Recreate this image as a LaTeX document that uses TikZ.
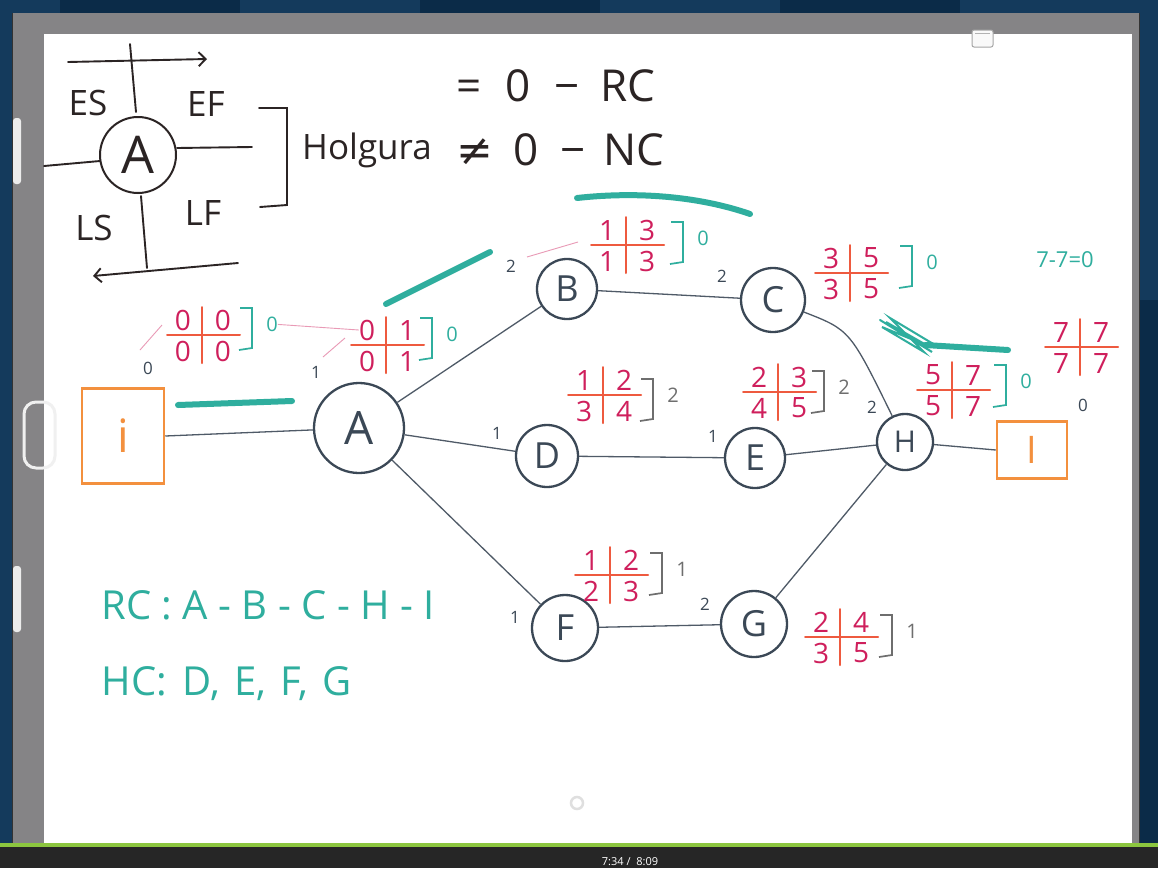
\documentclass[tikz,border=0pt]{standalone}
\usepackage{fontspec}
\setmainfont{Open Sans}
\newfontfamily\symfont{DejaVu Sans}
\usetikzlibrary{arrows.meta}
\definecolor{bgblue}{HTML}{143A5C}
\definecolor{bgdark}{HTML}{0B2B48}
\definecolor{framegray}{HTML}{858486}
\definecolor{ink}{HTML}{3B4856}
\definecolor{legink}{HTML}{2B2424}
\definecolor{crossred}{HTML}{EE5A3F}
\definecolor{crim}{HTML}{CF1F5C}
\definecolor{tealc}{HTML}{2FAE9E}
\definecolor{orangec}{HTML}{F3903E}
\definecolor{brgray}{HTML}{6E6E6E}
\definecolor{barGreen}{HTML}{8CC63F}
\newcommand\hfs[1]{\fontsize{#1}{#1}\selectfont}
\newcommand\brk[5]{%
  \draw[line width=1.7pt,#1] (#2,#3-22) -- (#2+12,#3-22) -- (#2+12,#3+18) -- (#2-1,#3+20);
  \node[slk,text=#1] (#5) at (#2+32,#3-6) {#4};}
\begin{document}
\begin{tikzpicture}[x=1pt,y=-1pt,
  nd/.style={circle,draw=ink,line width=2.3pt,inner sep=0pt,text=ink},
  edge/.style={draw=ink!90,line width=1.3pt},
  hl/.style={draw=tealc,line width=6pt,line cap=round},
  lg/.style={draw=legink,line width=1.9pt,line cap=round},
  lgt/.style={text=legink,font=\hfs{35},inner sep=0pt},
  wt/.style={text=ink,font=\hfs{17},inner sep=0pt},
  num/.style={text=crim,font=\hfs{28},inner sep=0pt},
  crossline/.style={draw=crossred,line width=2pt,line cap=round},
  slk/.style={font=\hfs{20},inner sep=0pt},
  pk/.style={draw=crim!45,line width=0.9pt},
  pics/ctab/.style n args={4}{code={
    \draw[crossline] (-35,0) -- (38,0);
    \draw[crossline] (0,-28) -- (0,28);
    \node[num] (-tl) at (-19,-15) {#1};
    \node[num] (-tr) at (21,-15) {#2};
    \node[num] (-bl) at (-19,16) {#3};
    \node[num] (-br) at (21,16) {#4};
  }}
]
\useasboundingbox (0,0) rectangle (1158,868);
% ---------- screen frame ----------
\fill[bgblue] (0,0) rectangle (1158,868);
\fill[bgdark] (60,0) -- (240,0) -- (240,13) -- (60,13) -- cycle;
\fill[bgdark] (420,0) -- (600,0) -- (600,13) -- (420,13) -- cycle;
\fill[bgdark] (780,0) -- (960,0) -- (960,13) -- (780,13) -- cycle;
\fill[bgdark] (1140,300) rectangle (1158,868);
\fill[black!80] (12,13) rectangle (1140,858);
\fill[framegray] (13,13) rectangle (1139,851);
\fill[white] (44,34) rectangle (1132,843);
\fill[black!85] (0,847) rectangle (1158,868);
\fill[barGreen] (0,843) rectangle (1158,847);
\node[text=white,font=\hfs{11}] (time) at (630,862) {7:34 /\ \ 8:09};
\fill[white!85!gray,rounded corners=3pt] (13,118) rectangle (21,184);
\fill[white!85!gray,rounded corners=3pt] (13,566) rectangle (21,632);
\draw[white!88!gray,line width=3pt,rounded corners=12pt] (24,402) rectangle (55,468);
\draw[gray!70,fill=white!95!gray,line width=1pt,rounded corners=2pt] (972,30) rectangle (993,47);
\draw[gray!60,line width=0.8pt] (975,33) -- (990,33);
\draw[gray!25,line width=2.5pt] (577,803) circle (6);
% ---------- legend ----------
\node[nd,draw=legink,text=legink,minimum size=76pt,font=\hfs{52},line width=2pt] (legA) at (138,155) {A};
\draw[lg,-{Straight Barb[length=7pt,width=14pt]}] (68,62) -- (207,59);
\draw[lg] (130,44) -- (136,112);
\draw[lg] (44,166) -- (100,161);
\draw[lg] (177,148) -- (252,147);
\draw[lg] (141,196) -- (147,268);
\draw[lg,-{Straight Barb[length=7pt,width=14pt]}] (238,263) -- (93,276);
\node[lgt] (ES) at (88,103) {ES};
\node[lgt] (EF) at (206,104) {EF};
\node[lgt] (LS) at (94,228) {LS};
\node[lgt] (LF) at (203,213) {LF};
\draw[lg] (259,108) -- (287,108) -- (287,205) -- (260,207);
\node[text=legink,font=\hfs{35}] (holg) at (367,150) {Holgura};
\node[text=legink,font=\hfs{44},anchor=west] (rc0) at (453,86) {=\hspace{24pt}0\hspace{24pt}−\hspace{20pt}RC};
\node[text=legink,font=\hfs{44},anchor=west] (nc0) at (453,150) {{\symfont ≠}\hspace{20pt}0\hspace{22pt}−\hspace{18pt}NC};
% ---------- teal highlights ----------
\draw[hl] (178,405) -- (292,401);
\draw[hl] (386,304) -- (490,252);
\draw[hl] (577,198) .. controls (650,190) and (710,200) .. (750,214);
\draw[tealc,line width=2pt,line cap=round] (880,320) -- (932,352) -- (886,322) -- (928,346) -- (882,327) -- (924,352) -- (890,318) -- (935,345);
\draw[hl] (925,345) -- (1008,350);
% ---------- nodes ----------
\node[draw=orangec,line width=2.5pt,minimum width=82pt,minimum height=95pt,text=orangec,font=\hfs{46}] (ibox) at (123,436) {i};
\node[nd,minimum size=90pt,font=\hfs{46}] (A) at (359,428) {A};
\node[nd,minimum size=60pt,font=\hfs{36}] (B) at (567,289) {B};
\node[nd,minimum size=64pt,font=\hfs{36}] (C) at (773,300) {C};
\node[nd,minimum size=62pt,font=\hfs{36}] (D) at (547,456) {D};
\node[nd,minimum size=60pt,font=\hfs{36}] (E) at (755,458) {E};
\node[nd,minimum size=56pt,font=\hfs{30}] (H) at (905,442) {H};
\node[nd,minimum size=66pt,font=\hfs{36}] (F) at (565,628) {F};
\node[nd,minimum size=66pt,font=\hfs{36}] (G) at (754,624) {G};
\node[draw=orangec,line width=2.5pt,minimum width=70pt,minimum height=57pt,text=orangec,font=\hfs{38}] (Ibox) at (1032,450) {I};
% ---------- edges ----------
\draw[edge] (ibox.east) -- (A);
\draw[edge] (A) -- (B);
\draw[edge] (A) -- (D);
\draw[edge] (A) -- (F);
\draw[edge] (B) -- (C);
\draw[edge] (D) -- (E);
\draw[edge] (F) -- (G);
\draw[edge] (C) .. controls (850,330) .. (H);
\draw[edge] (E) -- (H);
\draw[edge] (G) -- (H);
\draw[edge] (H) -- (Ibox.west);
% ---------- edge weights ----------
\node[wt] (w0) at (148,368) {0};
\node[wt] (wA) at (316,372) {1};
\node[wt] (wB) at (511,266) {2};
\node[wt] (wC) at (722,276) {2};
\node[wt] (wD) at (497,433) {1};
\node[wt] (wE) at (713,436) {1};
\node[wt] (wH) at (872,407) {2};
\node[wt] (wF) at (515,617) {1};
\node[wt] (wG) at (705,604) {2};
\node[wt] (wI) at (1083,405) {0};
% ---------- tables ----------
\pic (ti) at (202,335) {ctab={0}{0}{0}{0}};
\brk{tealc}{240}{330}{0}{si}
\pic (tA) at (386,345) {ctab={0}{1}{0}{1}};
\brk{tealc}{420}{340}{0}{sA}
\pic (tB) at (626,245) {ctab={1}{3}{1}{3}};
\brk{tealc}{671}{244}{0}{sB}
\pic (tC) at (850,273) {ctab={3}{5}{3}{5}};
\brk{tealc}{900}{268}{0}{sC}
\pic (tD) at (603,395) {ctab={1}{2}{3}{4}};
\brk{brgray}{641}{401}{2}{sD}
\pic (tE) at (778,392) {ctab={2}{3}{4}{5}};
\brk{brgray}{812}{393}{2}{sE}
\pic (tH) at (952,390) {ctab={5}{7}{5}{7}};
\brk{tealc}{994}{387}{0}{sH}
\pic (tF) at (610,575) {ctab={1}{2}{2}{3}};
\brk{brgray}{650}{575}{1}{sF}
\pic (tG) at (840,637) {ctab={2}{4}{3}{5}};
\brk{brgray}{880}{637}{1}{sG}
\pic (tI) at (1080,347) {ctab={7}{7}{7}{7}};
% thin pink strokes
\draw[pk] (si) -- (tA-tl.west);
\draw[pk] (140,350) -- (162,325);
\draw[pk] (323,357) -- (345,338);
\draw[pk] (527,257) -- (578,242);
% ---------- notes ----------
\node[text=tealc,font=\hfs{22}] (eq) at (1065,260) {7-7=0};
\node[text=tealc,font=\hfs{40},anchor=west] (rc) at (98,605) {RC : A - B - C - H - I};
\node[text=tealc,font=\hfs{40},anchor=west] (hc) at (98,684) {HC:\hspace{16pt}D,\hspace{14pt}E,\hspace{14pt}F,\hspace{14pt}G};
\end{tikzpicture}
\end{document}
